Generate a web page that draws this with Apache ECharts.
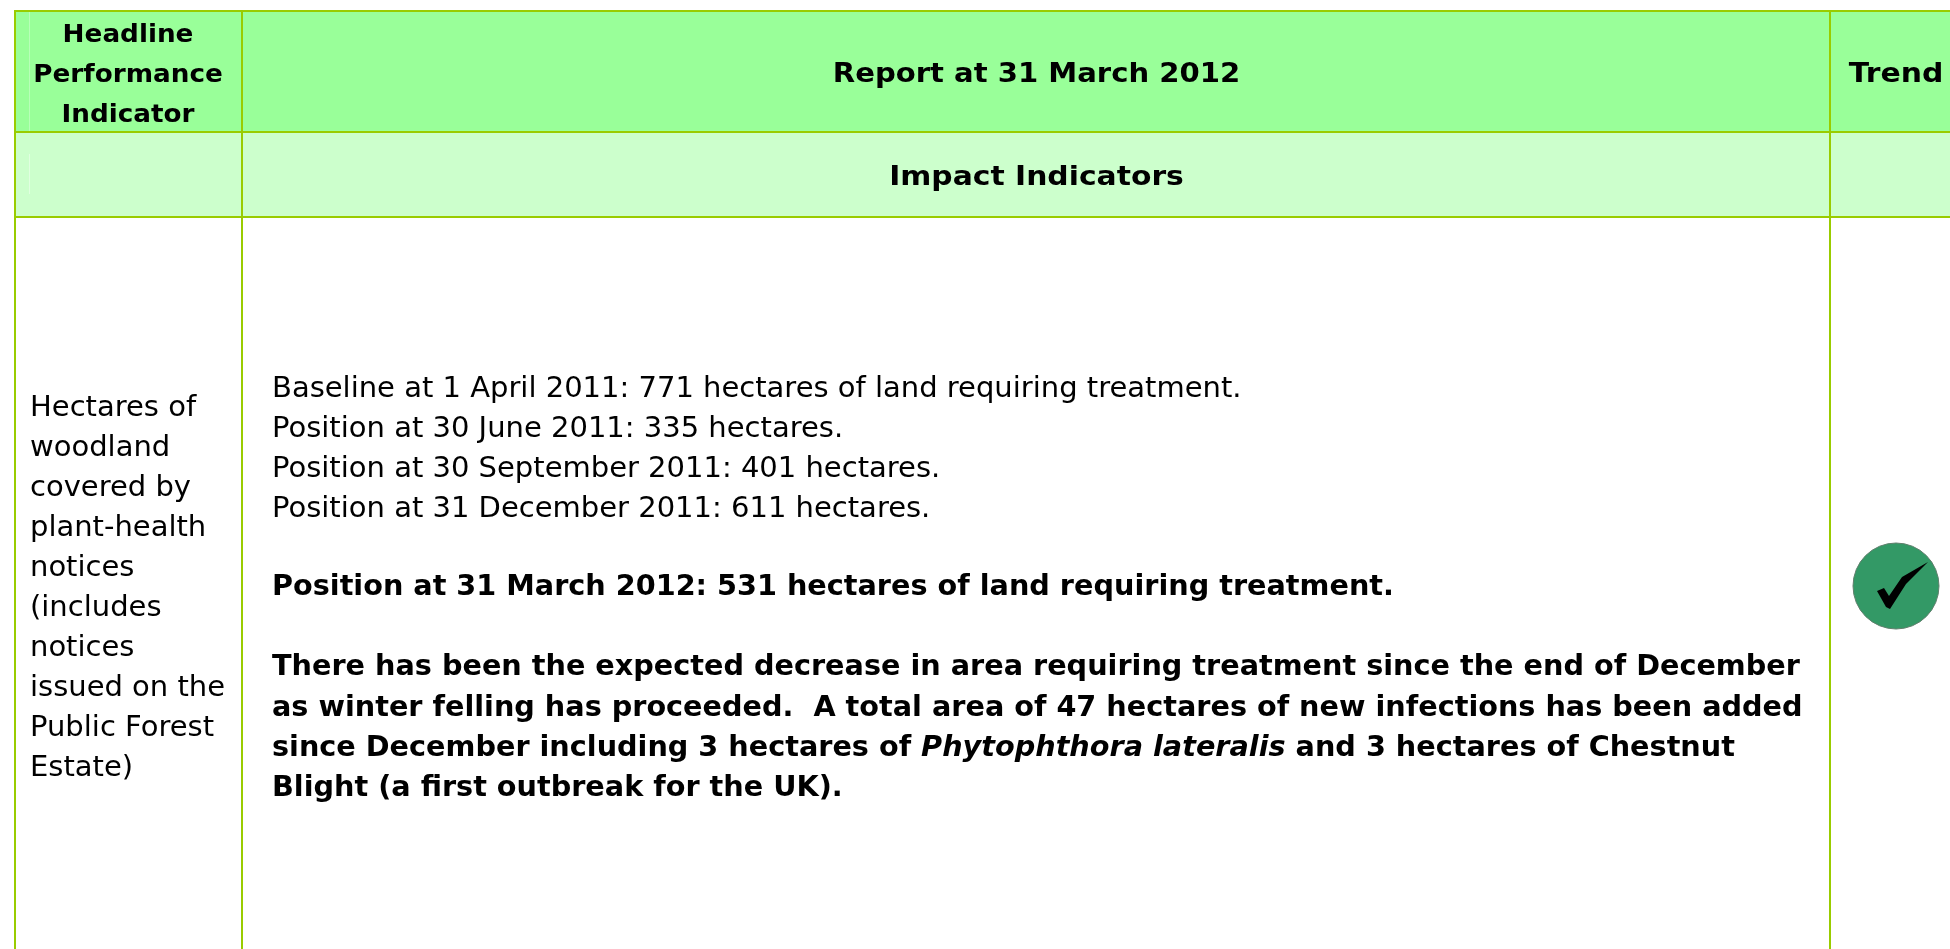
<!DOCTYPE html>
<html><head><meta charset="utf-8">
<style>html,body{margin:0;padding:0;background:#fff}#c{width:1950px;height:949px}</style>
<script src="https://cdn.jsdelivr.net/npm/echarts@6/dist/echarts.min.js"></script>
</head><body><div id="c"></div>
<script>
var headerCells = ['Headline\nPerformance\nIndicator', 'Report at 31 March 2012', 'Trend'];
var sectionTitle = 'Impact Indicators';
var indicatorLines = ['Hectares of','woodland','covered by','plant-health','notices','(includes','notices','issued on the','Public Forest','Estate)'];
var positionLines = ['Baseline at 1 April 2011: 771 hectares of land requiring treatment.','Position at 30 June 2011: 335 hectares.','Position at 30 September 2011: 401 hectares.','Position at 31 December 2011: 611 hectares.'];
var latestLine = 'Position at 31 March 2012: 531 hectares of land requiring treatment.';
var commentLines = [
 '{b|There has been the expected decrease in area requiring treatment since the end of December}',
 '{b|as winter felling has proceeded.  A total area of 47 hectares of new infections has been added}',
 '{b|since December including 3 hectares of }{i|Phytophthora lateralis}{b| and 3 hectares of Chestnut}',
 '{b|Blight (a first outbreak for the UK).}'];

var FONT = '"DejaVu Sans", Verdana, sans-serif';
var LINE = '#99cc00', HEAD = '#99ff99', SUB = '#ccffcc';
var xs = [15, 242, 1830, 1952], ys = [11, 132, 217, 951];
var g = [];
function rect(x,y,w,h,fill,z){ g.push({type:'rect',z:z||1,silent:true,shape:{x:x,y:y,width:w,height:h},style:{fill:fill}}); }
function text(t,x,y,align,weight,size,sx){
  g.push({type:'text',z:10,silent:true,x:x,y:y,scaleX:sx||1,style:{text:t,fontFamily:FONT,fontSize:size,fontWeight:weight||'normal',fill:'#000',align:align||'left',verticalAlign:'middle'}});
}
rect(xs[0],ys[0],xs[3]-xs[0],ys[1]-ys[0],HEAD);
rect(xs[0],ys[1],xs[3]-xs[0],ys[2]-ys[1],SUB);
rect(29,12,1,119,'#b8ffb8',4);
rect(29,154,1,40,'#e0ffe0',4);
ys.slice(0,3).forEach(function(y){rect(xs[0]-1,y-1,1950,2,LINE,5);});
xs.slice(0,3).forEach(function(x){rect(x-1,ys[0]-1,2,949,LINE,5);});

headerCells[0].split('\n').forEach(function(t,i){text(t,128,35+40*i,'center','bold',25,1.05);});
text(headerCells[1],1036.5,75,'center','bold',27,1.077);
text(headerCells[2],1896,75,'center','bold',27,1.105);
text(sectionTitle,1036.5,178,'center','bold',27,1.104);
indicatorLines.forEach(function(t,i){text(t,30,408+40*i,'left','normal',29);});
positionLines.forEach(function(t,i){text(t,272,389+40*i,'left','normal',29);});
text(latestLine,272,588,'left','bold',28.7);
var rich = {
  b:{fontFamily:FONT,fontSize:28.7,fontWeight:'bold',fill:'#000',lineHeight:40},
  i:{fontFamily:FONT,fontSize:28.7,fontWeight:'bold',fontStyle:'italic',fill:'#000',lineHeight:40}
};
commentLines.forEach(function(t,i){
  g.push({type:'text',z:10,silent:true,x:272,y:668+40.3*i,style:{text:t,rich:rich,fontFamily:FONT,fontSize:28.7,align:'left',verticalAlign:'middle'}});
});
// trend icon
g.push({type:'circle',z:6,silent:true,shape:{cx:1896,cy:586,r:43},style:{fill:'#339966',stroke:'#5f7f6c',lineWidth:1}});
g.push({type:'polygon',z:7,silent:true,shape:{points:[[1877,591],[1884,588],[1889,596],[1902,577],[1928,562],[1906,584],[1890,609],[1886,607]]},style:{fill:'#000'}});

var chart = echarts.init(document.getElementById('c'),null,{renderer:'canvas',width:1950,height:949});
chart.setOption({backgroundColor:'#fff',animation:false,graphic:{elements:g}});
</script></body></html>
